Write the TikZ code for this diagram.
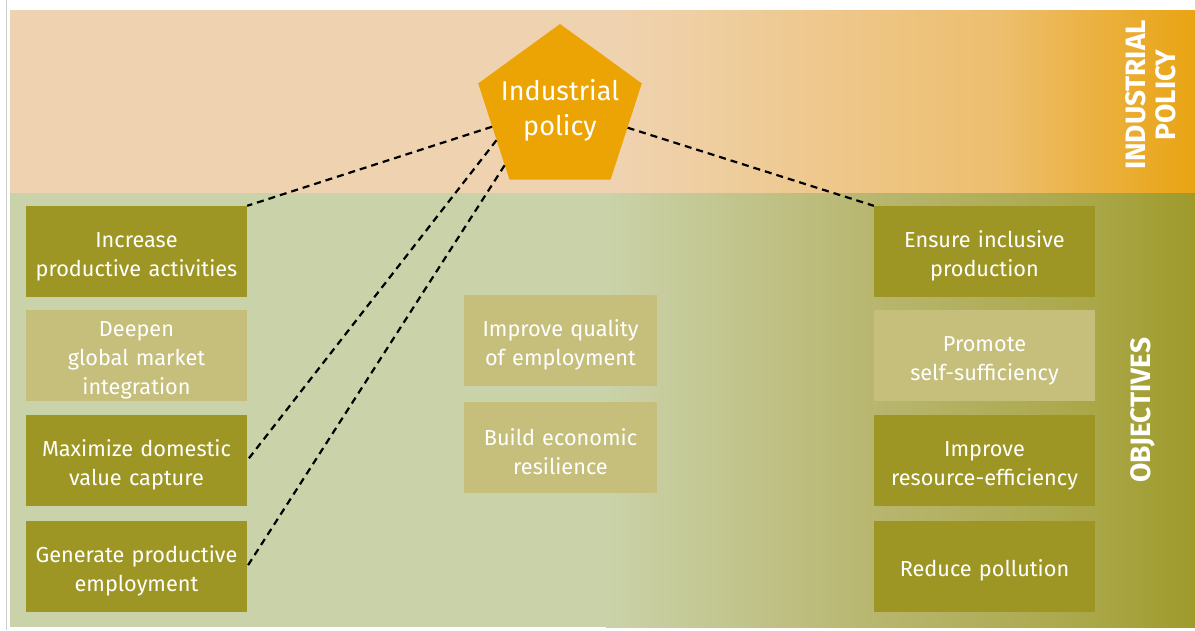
\documentclass[tikz,border=0pt]{standalone}
\usepackage{fontspec}
\setmainfont{Fira Sans}
\usetikzlibrary{positioning,calc,shapes.geometric}

\definecolor{peach}{HTML}{EFD3B1}
\definecolor{apricot}{HTML}{EDBE6E}
\definecolor{amber}{HTML}{E9A412}
\definecolor{sage}{HTML}{CAD2A9}
\definecolor{olivelight}{HTML}{B8B66F}
\definecolor{olivemid}{HTML}{AAA748}
\definecolor{olive}{HTML}{9F9A2B}
\definecolor{darkbox}{HTML}{9E9624}
\definecolor{lightbox}{HTML}{C6BF7C}
\definecolor{penta}{HTML}{EBA404}

\begin{document}
\begin{tikzpicture}[x=1pt, y=-1pt,
    goal/.style={rectangle, minimum width=221pt, minimum height=91pt, text width=215pt, align=center, text=white,
        font=\fontsize{21.7}{29}\selectfont, inner sep=0pt, execute at begin node={\rule{0pt}{25pt}}},
    darkgoal/.style={goal, fill=darkbox},
    lightgoal/.style={goal, fill=lightbox},
    midgoal/.style={lightgoal, minimum width=193pt, text width=190pt},
    sidelabel/.style={rotate=90, text=white, align=center, font=\bfseries\fontsize{28}{30}\selectfont},
    link/.style={black, line width=2.2pt, dash pattern=on 7pt off 5pt}
]
\useasboundingbox (0,0) rectangle (1195,630);

% Background bands
\fill[peach] (10,10) rectangle (610,193);
\shade[left color=peach, right color=apricot] (610,10) rectangle (1000,193);
\shade[left color=apricot, right color=amber] (1000,10) rectangle (1195,193);
\fill[sage] (10,193) rectangle (606,627);
\shade[left color=sage, right color=olivelight] (606,193) rectangle (874,627);
\shade[left color=olivelight, right color=olivemid] (874,193) rectangle (1094,627);
\shade[left color=olivemid, right color=olive] (1094,193) rectangle (1195,627);
\draw[gray!40, line width=1pt] (6,0) -- (6,630);

% Side labels
\node[sidelabel] (lblpolicy) at (1151,95) {INDUSTRIAL\\POLICY};
\node[sidelabel] (lblobj) at (1143,410) {OBJECTIVES};

% Industrial policy pentagon
\node[regular polygon, regular polygon sides=5, minimum size=172pt, fill=penta, inner sep=0pt,
      label={[text=white, align=center, font=\fontsize{27}{35}\selectfont]center:Industrial\\policy}] (ip) at (560,110) {};

% Left column
\node[darkgoal] (incr) at (136.5,251.5) {Increase\\productive activities};
\node[lightgoal] (deep) at (136.5,355.5) {Deepen\\global market\\integration};
\node[darkgoal] (maxi) at (136.5,460.5) {Maximize domestic\\value capture};
\node[darkgoal] (gene) at (136.5,566.5) {Generate productive\\employment};

% Middle column
\node[midgoal] (qual) at (560.5,340.5) {Improve quality\\of employment};
\node[midgoal] (resi) at (560.5,447.5) {Build economic\\resilience};

% Right column
\node[darkgoal] (incl) at (984.5,251.5) {Ensure inclusive\\production};
\node[lightgoal] (self) at (984.5,355.5) {Promote\\self-sufficiency};
\node[darkgoal] (reso) at (984.5,460.5) {Improve\\resource-efficiency};
\node[darkgoal] (poll) at (984.5,566.5) {Reduce pollution};

% Dashed links
\draw[link] ($(ip.corner 2)!0.45!(ip.corner 3)$) -- (incr.north east);
\draw[link] ($(ip.corner 2)!0.59!(ip.corner 3)$) -- (maxi.east);
\draw[link] ($(ip.corner 2)!0.85!(ip.corner 3)$) -- (gene.east);
\draw[link] ($(ip.corner 5)!0.46!(ip.corner 4)$) -- (incl.north west);

\end{tikzpicture}
\end{document}
